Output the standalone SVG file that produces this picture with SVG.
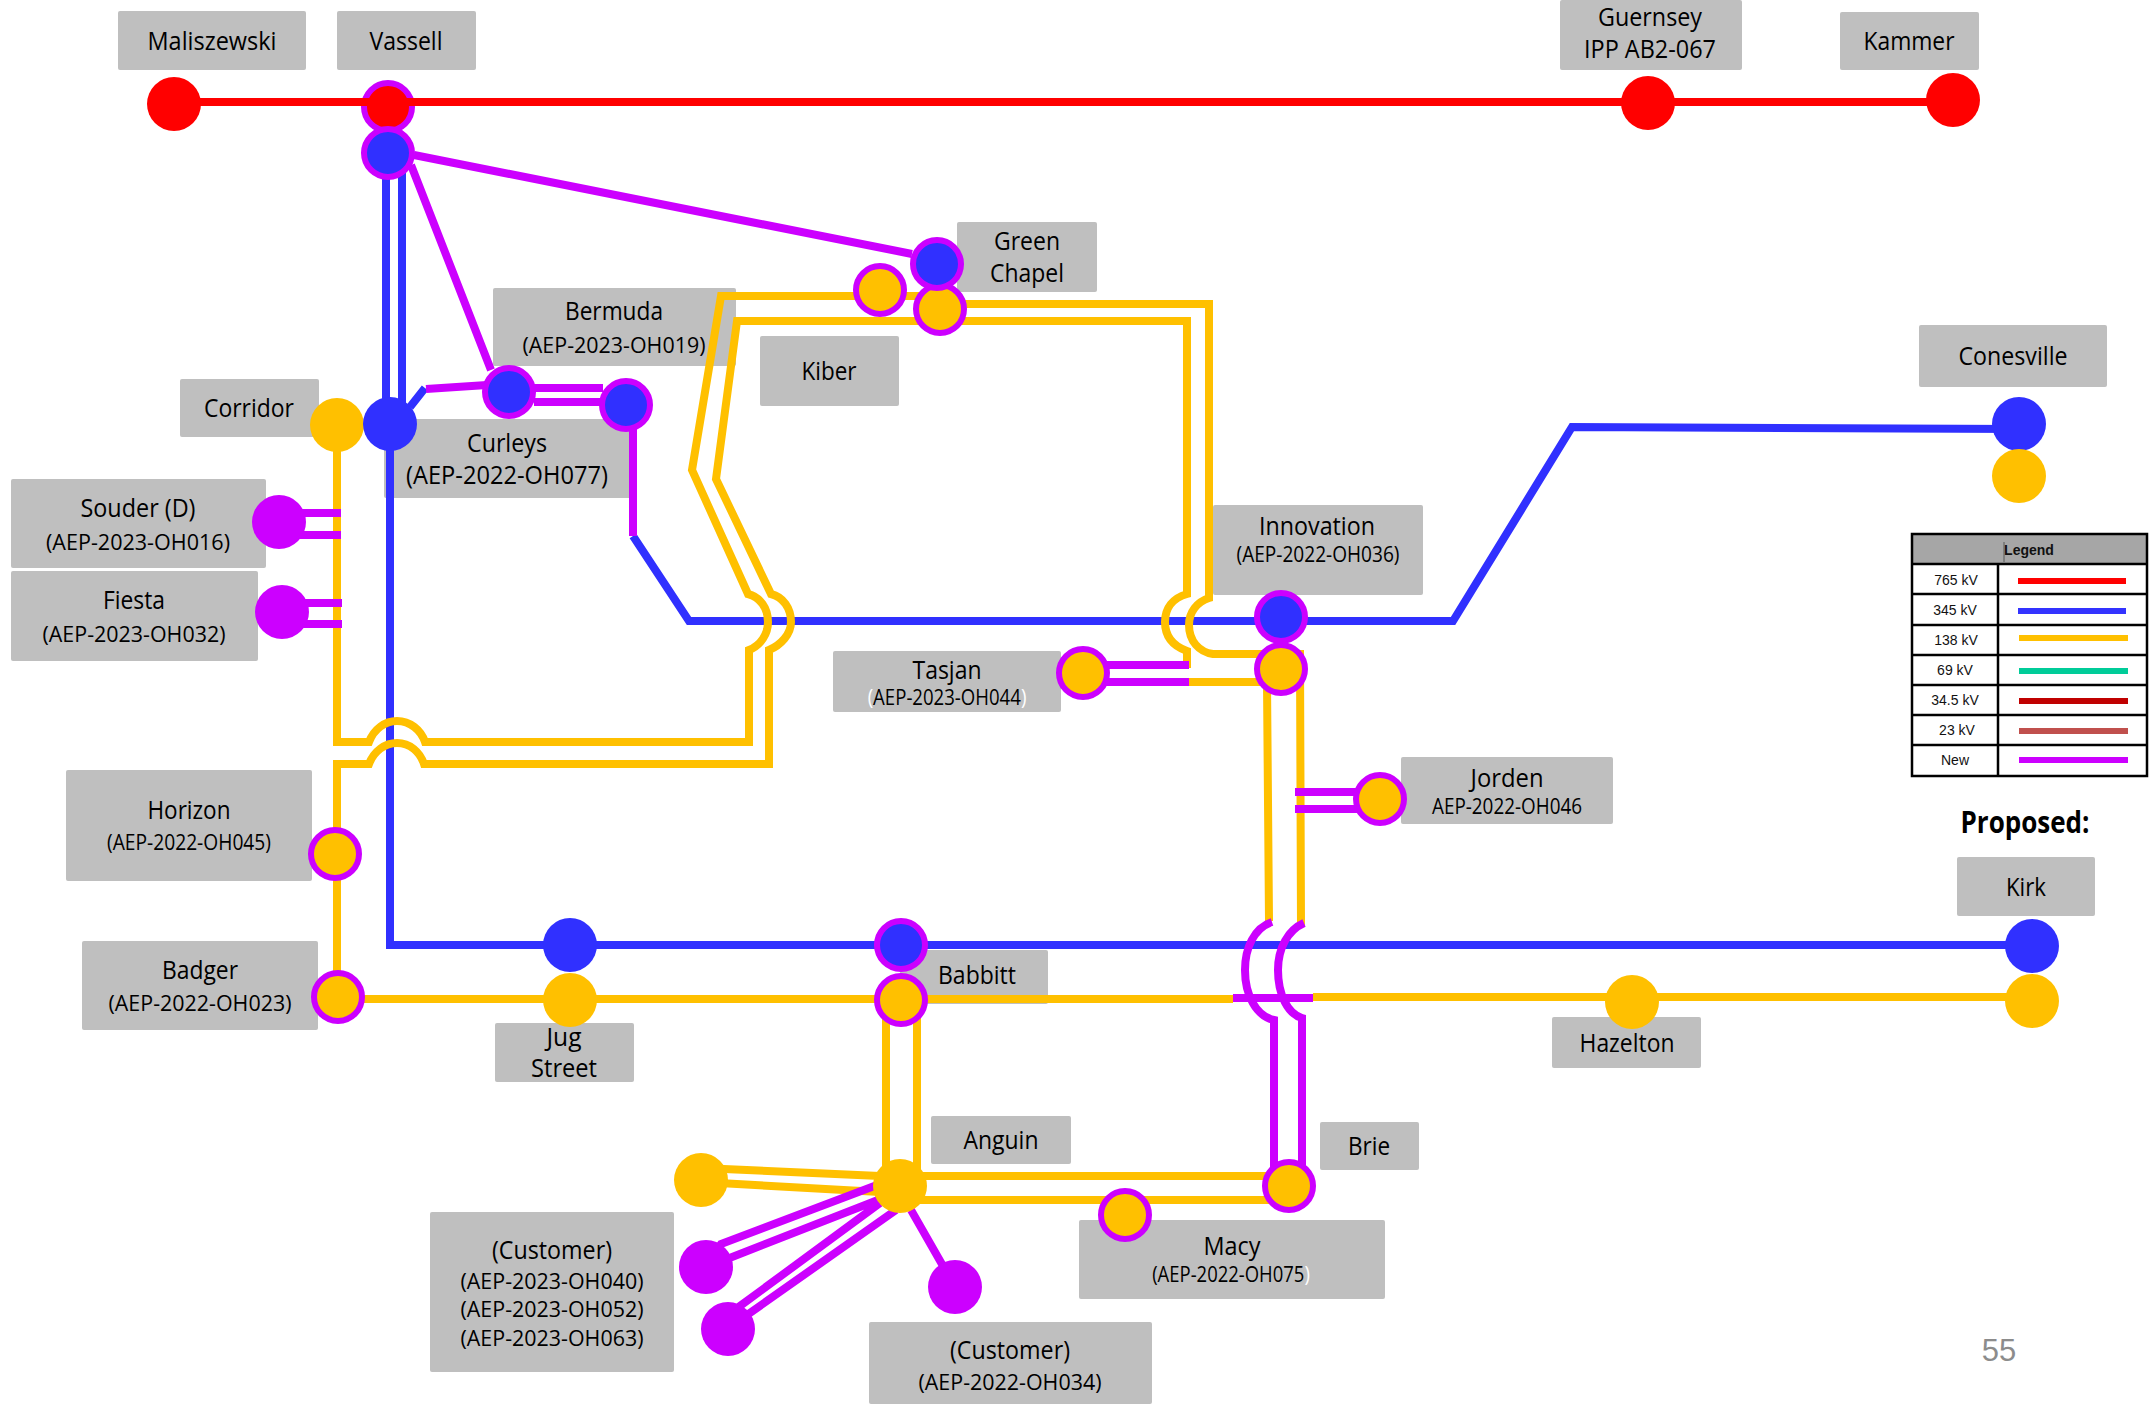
<svg xmlns="http://www.w3.org/2000/svg" width="2152" height="1404" viewBox="0 0 2152 1404">
<style>
.b{fill:#bfbfbf}
text{font-family:"Open Sans","Noto Sans",sans-serif;text-anchor:middle}
.n{font-size:25px}
.c{font-size:22px}
.l{fill:none;stroke-width:8;stroke-linejoin:miter}
.r{stroke:#ff0000}.u{stroke:#3030ff}.y{stroke:#ffc000}.p{stroke:#cc00ff}
.fr{fill:#ff0000}.fu{fill:#3030ff}.fy{fill:#ffc000}.fp{fill:#cc00ff}
.x{stroke:#cc00ff;stroke-width:6}
.lg text{font-family:"Liberation Sans",Arial,sans-serif;font-size:14px;fill:#111}
.lg .g{fill:none;stroke:#000;stroke-width:2.5}
.lg .k{stroke-width:6;fill:none}
</style>
<g id="labels">
<g id="label-maliszewski"><rect class="b" x="118" y="11" width="188" height="59" rx="2"/><text class="n" x="212" y="50" textLength="129" lengthAdjust="spacingAndGlyphs">Maliszewski</text></g>
<g id="label-vassell"><rect class="b" x="337" y="11" width="139" height="59" rx="2"/><text class="n" x="406" y="50" textLength="73" lengthAdjust="spacingAndGlyphs">Vassell</text></g>
<g id="label-guernsey"><rect class="b" x="1560" y="0" width="182" height="70" rx="2"/><text class="n" x="1650" y="26" textLength="104" lengthAdjust="spacingAndGlyphs">Guernsey</text><text class="n" x="1650" y="58" textLength="132" lengthAdjust="spacingAndGlyphs">IPP AB2-067</text></g>
<g id="label-kammer"><rect class="b" x="1840" y="12" width="139" height="58" rx="2"/><text class="n" x="1909" y="50" textLength="91" lengthAdjust="spacingAndGlyphs">Kammer</text></g>
<g id="label-green-chapel"><rect class="b" x="957" y="222" width="140" height="70" rx="2"/><text class="n" x="1027" y="250" textLength="66" lengthAdjust="spacingAndGlyphs">Green</text><text class="n" x="1027" y="282" textLength="74" lengthAdjust="spacingAndGlyphs">Chapel</text></g>
<g id="label-bermuda"><rect class="b" x="493" y="288" width="243" height="78" rx="2"/><text class="n" x="614" y="320" textLength="98" lengthAdjust="spacingAndGlyphs">Bermuda</text><text class="c" x="614" y="353" textLength="183" lengthAdjust="spacingAndGlyphs">(AEP-2023-OH019)</text></g>
<g id="label-kiber"><rect class="b" x="760" y="336" width="139" height="70" rx="2"/><text class="n" x="829" y="380" textLength="55" lengthAdjust="spacingAndGlyphs">Kiber</text></g>
<g id="label-corridor"><rect class="b" x="180" y="379" width="139" height="58" rx="2"/><text class="n" x="249" y="417" textLength="90" lengthAdjust="spacingAndGlyphs">Corridor</text></g>
<g id="label-curleys"><rect class="b" x="384" y="419" width="247" height="79" rx="2"/><text class="n" x="507" y="452" textLength="80" lengthAdjust="spacingAndGlyphs">Curleys</text><text class="n" x="507" y="484" textLength="202" lengthAdjust="spacingAndGlyphs">(AEP-2022-OH077)</text></g>
<g id="label-souder"><rect class="b" x="11" y="479" width="255" height="89" rx="2"/><text class="n" x="138" y="517" textLength="115" lengthAdjust="spacingAndGlyphs">Souder (D)</text><text class="c" x="138" y="550" textLength="184" lengthAdjust="spacingAndGlyphs">(AEP-2023-OH016)</text></g>
<g id="label-fiesta"><rect class="b" x="11" y="571" width="247" height="90" rx="2"/><text class="n" x="134" y="609" textLength="62" lengthAdjust="spacingAndGlyphs">Fiesta</text><text class="c" x="134" y="642" textLength="183" lengthAdjust="spacingAndGlyphs">(AEP-2023-OH032)</text></g>
<g id="label-tasjan"><rect class="b" x="833" y="651" width="228" height="61" rx="2"/><text class="n" x="947" y="679" textLength="69" lengthAdjust="spacingAndGlyphs">Tasjan</text><text class="c" transform="translate(947 705) scale(.845 1)" x="0" y="0"><tspan fill="#fff">(</tspan>AEP-2023-OH044<tspan fill="#fff">)</tspan></text></g>
<g id="label-innovation"><rect class="b" x="1213" y="505" width="210" height="90" rx="2"/><text class="n" x="1317" y="535" textLength="116" lengthAdjust="spacingAndGlyphs">Innovation</text><text class="c" x="1318" y="562" textLength="163" lengthAdjust="spacingAndGlyphs">(AEP-2022-OH036)</text></g>
<g id="label-conesville"><rect class="b" x="1919" y="325" width="188" height="62" rx="2"/><text class="n" x="2013" y="365" textLength="109" lengthAdjust="spacingAndGlyphs">Conesville</text></g>
<g id="label-jorden"><rect class="b" x="1401" y="757" width="212" height="67" rx="2"/><text class="n" x="1507" y="787" textLength="73" lengthAdjust="spacingAndGlyphs">Jorden</text><text class="c" x="1507" y="814" textLength="150" lengthAdjust="spacingAndGlyphs">AEP-2022-OH046</text></g>
<g id="label-kirk"><rect class="b" x="1957" y="857" width="138" height="59" rx="2"/><text class="n" x="2026" y="896" textLength="40" lengthAdjust="spacingAndGlyphs">Kirk</text></g>
<g id="label-horizon"><rect class="b" x="66" y="770" width="246" height="111" rx="2"/><text class="n" x="189" y="819" textLength="83" lengthAdjust="spacingAndGlyphs">Horizon</text><text class="c" x="189" y="850" textLength="164" lengthAdjust="spacingAndGlyphs">(AEP-2022-OH045)</text></g>
<g id="label-badger"><rect class="b" x="82" y="941" width="236" height="89" rx="2"/><text class="n" x="200" y="979" textLength="76" lengthAdjust="spacingAndGlyphs">Badger</text><text class="c" x="200" y="1011" textLength="183" lengthAdjust="spacingAndGlyphs">(AEP-2022-OH023)</text></g>
<g id="label-jug-street"><rect class="b" x="495" y="1023" width="139" height="59" rx="2"/><text class="n" x="564" y="1046" textLength="35" lengthAdjust="spacingAndGlyphs">Jug</text><text class="n" x="564" y="1077" textLength="66" lengthAdjust="spacingAndGlyphs">Street</text></g>
<g id="label-babbitt"><rect class="b" x="900" y="950" width="148" height="54" rx="2"/><text class="n" x="977" y="984" textLength="78" lengthAdjust="spacingAndGlyphs">Babbitt</text></g>
<g id="label-anguin"><rect class="b" x="931" y="1116" width="140" height="48" rx="2"/><text class="n" x="1001" y="1149" textLength="75" lengthAdjust="spacingAndGlyphs">Anguin</text></g>
<g id="label-brie"><rect class="b" x="1320" y="1122" width="99" height="48" rx="2"/><text class="n" x="1369" y="1155" textLength="42" lengthAdjust="spacingAndGlyphs">Brie</text></g>
<g id="label-macy"><rect class="b" x="1079" y="1220" width="306" height="79" rx="2"/><text class="n" x="1232" y="1255" textLength="57" lengthAdjust="spacingAndGlyphs">Macy</text><text class="c" transform="translate(1231 1282) scale(.84 1)" x="0" y="0">(AEP-2022-OH075<tspan fill="#fff">)</tspan></text></g>
<g id="label-hazelton"><rect class="b" x="1552" y="1017" width="149" height="51" rx="2"/><text class="n" x="1627" y="1052" textLength="95" lengthAdjust="spacingAndGlyphs">Hazelton</text></g>
<g id="label-customer-a"><rect class="b" x="430" y="1212" width="244" height="160" rx="2"/><text class="n" x="552" y="1259" textLength="120" lengthAdjust="spacingAndGlyphs">(Customer)</text><text class="c" x="552" y="1289" textLength="183" lengthAdjust="spacingAndGlyphs">(AEP-2023-OH040)</text><text class="c" x="552" y="1317" textLength="183" lengthAdjust="spacingAndGlyphs">(AEP-2023-OH052)</text><text class="c" x="552" y="1346" textLength="183" lengthAdjust="spacingAndGlyphs">(AEP-2023-OH063)</text></g>
<g id="label-customer-b"><rect class="b" x="869" y="1322" width="283" height="82" rx="2"/><text class="n" x="1010" y="1359" textLength="120" lengthAdjust="spacingAndGlyphs">(Customer)</text><text class="c" x="1010" y="1390" textLength="183" lengthAdjust="spacingAndGlyphs">(AEP-2022-OH034)</text></g>
</g>
<g id="connectors">
<path class="l r" d="M174 102H1953"/>
<path class="l u" d="M386 153V424M402 153V424M390 424V945H2032M410 407L425 388M633 536L689 621H1453L1572 427L2019 429"/>
<path class="l y" d="M337 425V742H369C374 729 385 721 397 721C410 721 421 730 425 742H749V650C761 645 768 634 768 622C768 608 760 597 748 594L692 470L721 296H930"/>
<path class="l y" d="M337 997V764H369C374 751 385 743 397 743C410 743 420 752 424 764H769V650C781 645 791 634 791 622C791 608 783 597 771 594L716 479L737 321H1187V594C1173 598 1165 608 1165 622C1165 637 1173 646 1187 651V668"/>
<path class="l y" d="M940 304H1209V598C1197 602 1189 612 1189 625C1189 641 1199 652 1213 654H1300L1301 926"/>
<path class="l y" d="M1189 682H1267L1269 921"/>
<path class="l y" d="M338 999H1233M1313 997H2032M886 1000V1186M917 1000V1186M900 1176H1289M900 1200H1289M701 1168L880 1176M701 1182L880 1192"/>
<path class="l p" d="M414 155L912 254M411 165L491 370M426 389L487 385M534 388H603M534 402H603M633 425V536M279 513H341M279 535H341M282 603H342M282 624H342M1083 665H1189M1083 682H1189M1295 792H1380M1295 809H1380"/>
<path class="l p" d="M1272 922C1254 928 1245 948 1245 970C1245 995 1256 1016 1274 1020V1186M1304 923C1288 930 1278 948 1278 970C1278 995 1288 1014 1302 1018V1175M1233 998H1313"/>
<path class="l p" d="M706 1267L721 1244L877 1185M706 1267L727 1259L883 1198M728 1329L740 1306L880 1203M728 1329L747 1315L896 1210M911 1210L943 1266"/>
</g>
<g id="stations">
<g id="node-maliszewski"><circle class="fr" cx="174" cy="104" r="27"/></g>
<g id="node-vassell-765"><circle class="fr x" cx="388" cy="107" r="24"/><path class="l r" d="M361 102H416"/></g>
<g id="node-vassell-345"><circle class="fu x" cx="388" cy="153" r="24"/></g>
<g id="node-guernsey"><circle class="fr" cx="1648" cy="103" r="27"/></g>
<g id="node-kammer"><circle class="fr" cx="1953" cy="100" r="27"/></g>
<g id="node-kiber-a"><circle class="fy x" cx="880" cy="290" r="24"/></g>
<g id="node-kiber-b"><circle class="fy x" cx="940" cy="309" r="24"/></g>
<g id="node-green-chapel"><circle class="fu x" cx="937" cy="264" r="24"/></g>
<g id="node-corridor-138"><circle class="fy" cx="337" cy="425" r="27"/></g>
<g id="node-corridor-345"><circle class="fu" cx="390" cy="424" r="27"/></g>
<g id="node-bermuda"><circle class="fu x" cx="509" cy="392" r="24"/></g>
<g id="node-curleys"><circle class="fu x" cx="626" cy="405" r="24"/></g>
<g id="node-souder"><circle class="fp" cx="279" cy="522" r="27"/></g>
<g id="node-fiesta"><circle class="fp" cx="282" cy="612" r="27"/></g>
<g id="node-innovation-138"><circle class="fy x" cx="1281" cy="669" r="24"/></g>
<g id="node-innovation-345"><circle class="fu x" cx="1281" cy="617" r="24"/></g>
<g id="node-tasjan"><circle class="fy x" cx="1083" cy="673" r="24"/></g>
<g id="node-jorden"><circle class="fy x" cx="1380" cy="799" r="24"/></g>
<g id="node-conesville-345"><circle class="fu" cx="2019" cy="424" r="27"/></g>
<g id="node-conesville-138"><circle class="fy" cx="2019" cy="476" r="27"/></g>
<g id="node-kirk-345"><circle class="fu" cx="2032" cy="946" r="27"/></g>
<g id="node-kirk-138"><circle class="fy" cx="2032" cy="1001" r="27"/></g>
<g id="node-hazelton"><circle class="fy" cx="1632" cy="1002" r="27"/></g>
<g id="node-brie"><circle class="fy x" cx="1289" cy="1186" r="24"/></g>
<g id="node-macy"><circle class="fy x" cx="1125" cy="1215" r="24"/></g>
<g id="node-horizon"><circle class="fy x" cx="335" cy="854" r="24"/></g>
<g id="node-badger"><circle class="fy x" cx="338" cy="997" r="24"/></g>
<g id="node-jug-345"><circle class="fu" cx="570" cy="945" r="27"/></g>
<g id="node-jug-138"><circle class="fy" cx="570" cy="1000" r="27"/></g>
<g id="node-babbitt-345"><circle class="fu x" cx="901" cy="945" r="24"/></g>
<g id="node-babbitt-138"><circle class="fy x" cx="901" cy="1000" r="24"/></g>
<g id="node-customer-y"><circle class="fy" cx="701" cy="1180" r="27"/></g>
<g id="node-customer-1"><circle class="fp" cx="706" cy="1267" r="27"/></g>
<g id="node-customer-2"><circle class="fp" cx="728" cy="1329" r="27"/></g>
<g id="node-customer-3"><circle class="fp" cx="955" cy="1287" r="27"/></g>
<g id="node-anguin"><circle class="fy" cx="900" cy="1186" r="27"/></g>
</g>
<g id="legend" class="lg">
<rect x="1912" y="534" width="235" height="30" fill="#a6a6a6"/>
<text x="2029" y="555" font-weight="bold">Legend</text>
<path d="M2004 542V562" stroke="#444" stroke-width="0.8"/>
<path class="g" d="M1912 534H2147V776H1912ZM1912 564H2147M1912 594H2147M1912 625H2147M1912 655H2147M1912 685H2147M1912 715H2147M1912 745H2147M1998 564V776"/>
<text x="1956" y="585">765 kV</text><text x="1955" y="615">345 kV</text><text x="1956" y="645">138 kV</text><text x="1955" y="675">69 kV</text><text x="1955" y="705">34.5 kV</text><text x="1957" y="735">23 kV</text><text x="1955" y="765">New</text>
<path class="k" stroke="#ff0000" d="M2018 581H2126"/>
<path class="k" stroke="#3333ff" d="M2018 611H2126"/>
<path class="k" stroke="#ffc000" d="M2019 638H2128"/>
<path class="k" stroke="#00cc99" d="M2019 671H2128"/>
<path class="k" stroke="#c00000" d="M2019 701H2128"/>
<path class="k" stroke="#c0504d" d="M2019 731H2128"/>
<path class="k" stroke="#cc00ff" d="M2019 760H2128"/>
</g>
<text x="2025" y="833" font-size="30" font-weight="bold" textLength="129" lengthAdjust="spacingAndGlyphs">Proposed:</text>
<text x="1999" y="1361" style="font-family:'Liberation Sans',Arial,sans-serif" font-size="31" fill="#8c8c8c">55</text>
</svg>
